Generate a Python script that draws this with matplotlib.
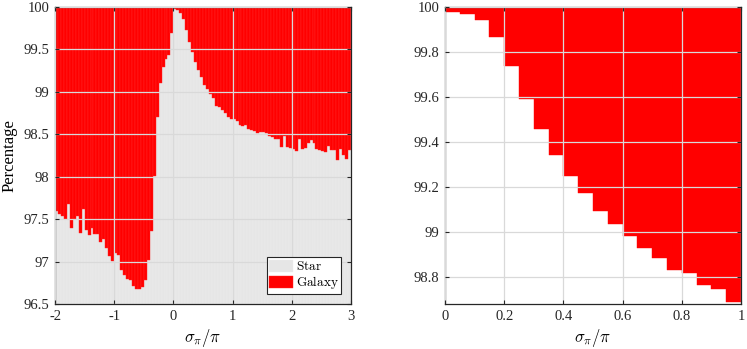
import numpy as np
import matplotlib
matplotlib.use("Agg")
import matplotlib.pyplot as plt

plt.rcParams['font.family'] = ['Liberation Serif', 'DejaVu Serif']
plt.rcParams['mathtext.fontset'] = 'cm'

# ---------------- data ----------------
bin_width = 0.05
left_edges = np.round(np.arange(-2, 3, bin_width), 3)      # sigma_pi/pi bins, left panel
star_left = [
    97.594, 97.555, 97.535, 97.503, 97.673, 97.39, 97.503, 97.535, 97.33, 97.614,
    97.37, 97.31, 97.40, 97.32, 97.32, 97.232, 97.26, 97.154, 97.064, 97.008,
    97.095, 97.075, 96.899, 96.84, 96.793, 96.78, 96.71, 96.675, 96.675, 96.695,
    96.78, 97.016, 97.36, 98.01, 98.697, 99.105, 99.293, 99.38, 99.431, 99.686,
    99.969, 99.96, 99.93, 99.86, 99.73, 99.588, 99.47, 99.352, 99.254, 99.168,
    99.078, 99.027, 98.972, 98.921, 98.83, 98.815, 98.783, 98.744, 98.697, 98.68,
    98.674, 98.657, 98.607, 98.595, 98.607, 98.556, 98.548, 98.54, 98.517, 98.53,
    98.52, 98.51, 98.48, 98.469, 98.44, 98.44, 98.344, 98.477, 98.35, 98.34,
    98.32, 98.304, 98.44, 98.32, 98.34, 98.39, 98.43, 98.39, 98.32, 98.312,
    98.304, 98.285, 98.363, 98.312, 98.312, 98.194, 98.33, 98.26, 98.206, 98.312,
]
galaxy_left = [100 - s for s in star_left]

right_edges = np.round(np.arange(0, 1, bin_width), 3)       # sigma_pi/pi bins, right panel
star_right = [
    99.975, 99.969, 99.94, 99.867, 99.735, 99.588, 99.458, 99.34, 99.249, 99.17,
    99.093, 99.033, 98.98, 98.93, 98.882, 98.83, 98.815, 98.763, 98.744, 98.689,
]
galaxy_right = [100 - s for s in star_right]

left_yticks = [96.5, 97, 97.5, 98, 98.5, 99, 99.5, 100]
left_yticklabels = ['96.5', '97', '97.5', '98', '98.5', '99', '99.5', '100']
left_xticks = [-2, -1, 0, 1, 2, 3]
left_xticklabels = ['-2', '-1', '0', '1', '2', '3']
right_yticks = [98.8, 99, 99.2, 99.4, 99.6, 99.8, 100]
right_yticklabels = ['98.8', '99', '99.2', '99.4', '99.6', '99.8', '100']
right_xticks = [0, 0.2, 0.4, 0.6, 0.8, 1]
right_xticklabels = ['0', '0.2', '0.4', '0.6', '0.8', '1']

# ---------------- style ----------------
STAR_GREY = '#e6e6e6'
RED = '#ff0000'
SPINE = '#262626'
GRID = '#d9d9d9'

fig = plt.figure(figsize=(7.47, 3.49), dpi=100)
axL = fig.add_axes([55 / 747, 45 / 349, 296 / 747, 297.3 / 349])
axR = fig.add_axes([445 / 747, 45 / 349, 296 / 747, 297.3 / 349])


def style(ax):
    ax.set_axisbelow(False)
    ax.grid(True, color=GRID, linewidth=0.9)
    for sp in ax.spines.values():
        sp.set_color(SPINE)
        sp.set_linewidth(0.9)
    ax.tick_params(direction='in', top=True, right=True, length=3, width=0.8,
                   color=SPINE, labelsize=10.5, labelcolor='#262626', pad=4)


# left panel
hs = axL.bar(left_edges, star_left, width=bin_width, align='edge', color=STAR_GREY,
             edgecolor='#ececec', linewidth=0.3, label=r'$\mathrm{Star}$')
hg = axL.bar(left_edges, galaxy_left, bottom=star_left, width=bin_width, align='edge',
             color=RED, edgecolor='#ff2a2a', linewidth=0.3, label=r'$\mathrm{Galaxy}$')
axL.set_xlim(-2, 3)
axL.set_ylim(96.5, 100)
axL.set_xticks(left_xticks, left_xticklabels)
axL.set_yticks(left_yticks, left_yticklabels)
style(axL)
axL.set_xlabel(r'$\sigma_\pi/\pi$', fontsize=12, labelpad=3)
axL.set_ylabel('Percentage', fontsize=12, labelpad=4)
leg = axL.legend(loc='lower right', fancybox=False, framealpha=1, edgecolor=SPINE,
                 fontsize=9.5, handlelength=1.8, handleheight=1.0, borderpad=0.2,
                 labelspacing=0.1, handletextpad=0.2, borderaxespad=0.75)
leg.get_frame().set_linewidth(0.8)

# right panel
axR.bar(right_edges, star_right, width=bin_width, align='edge', color='white',
        edgecolor='white', linewidth=0)
axR.bar(right_edges, galaxy_right, bottom=star_right, width=bin_width, align='edge',
        color=RED, edgecolor=RED, linewidth=0.3)
axR.set_xlim(0, 1)
axR.set_ylim(98.679, 100)
axR.set_xticks(right_xticks, right_xticklabels)
axR.set_yticks(right_yticks, right_yticklabels)
style(axR)
axR.set_xlabel(r'$\sigma_\pi/\pi$', fontsize=12, labelpad=3)

fig.savefig('out.png', dpi=100)
